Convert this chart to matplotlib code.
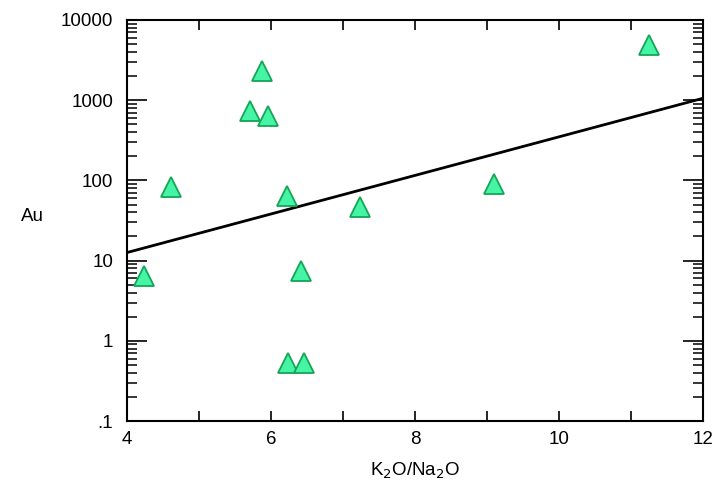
import matplotlib
matplotlib.use("Agg")
import matplotlib.pyplot as plt
from matplotlib.ticker import FixedLocator, NullFormatter

plt.rcParams["font.family"] = ["Liberation Sans", "DejaVu Sans"]

# K2O/Na2O ratio vs Au
k2o_na2o = [4.24, 4.61, 5.71, 5.875, 5.96, 6.22, 6.24, 6.46, 6.41, 7.24, 9.10, 11.25]
au = [6.4, 83, 730, 2300, 630, 64, 0.53, 0.53, 7.5, 46, 89, 4900]

# regression line end points
fit_x = [4, 12]
fit_y = [12.6, 1057]

x_labels = [4, 6, 8, 10, 12]
y_ticks = [0.1, 1, 10, 100, 1000, 10000]
y_labels = [".1", "1", "10", "100", "1000", "10000"]

fig = plt.figure(figsize=(7.17, 4.93), dpi=100)
ax = fig.add_axes([127 / 717, 1 - 421 / 493, 576 / 717, 401 / 493])

ax.plot(fit_x, fit_y, color="black", lw=2.0, zorder=2)
ax.plot(k2o_na2o, au, linestyle="none", marker="^", markersize=14.5,
        markerfacecolor="#45f5a5", markeredgecolor="#14a556",
        markeredgewidth=1.3, zorder=3)

ax.set_yscale("log")
ax.set_xlim(4, 12)
ax.set_ylim(0.1, 10000)

# x: labelled every 2, short ticks every 1, long ticks at 5 and 10
ax.xaxis.set_major_locator(FixedLocator(list(range(4, 13))))
ax.set_xticklabels([str(v) if v in x_labels else "" for v in range(4, 13)])
ax.xaxis.set_minor_locator(FixedLocator([5, 10]))

ax.yaxis.set_major_locator(FixedLocator(y_ticks))
ax.set_yticklabels(y_labels)
minor_y = [m * d for d in y_ticks[:-1] for m in range(2, 10)]
ax.yaxis.set_minor_locator(FixedLocator(minor_y))
ax.yaxis.set_minor_formatter(NullFormatter())

ax.tick_params(axis="x", which="major", direction="in", length=7.2, width=1.2,
               top=True, labelsize=13.5, pad=7)
ax.tick_params(axis="x", which="minor", direction="in", length=14.4, width=1.2,
               top=True)
ax.tick_params(axis="y", which="major", direction="in", length=14.4, width=1.2,
               left=True, right=True, labelsize=13.5, pad=10)
ax.tick_params(axis="y", which="minor", direction="in", length=7.2, width=1.1,
               left=True, right=True)

for s in ax.spines.values():
    s.set_linewidth(1.5)

ax.set_xlabel("K$_2$O/Na$_2$O", fontsize=13.5, labelpad=9)
ax.set_ylabel("Au", fontsize=13.5, rotation=0, labelpad=0)
ax.yaxis.set_label_coords(-0.165, 0.49)

fig.savefig("out.png", dpi=100)
